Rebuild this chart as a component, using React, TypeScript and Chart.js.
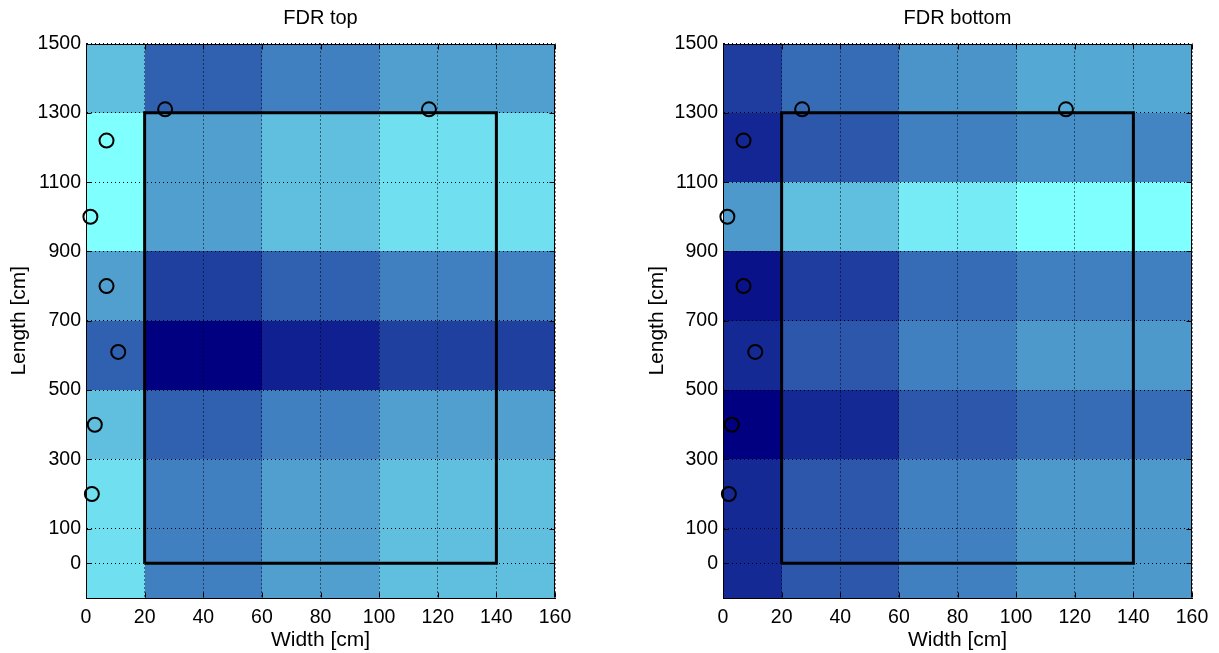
import React, { useEffect, useRef } from 'react';
import { Chart, registerables } from 'chart.js';

Chart.register(...registerables);

// Cell edges (cm)
const xEdges = [0, 20, 60, 100, 140, 160];
const yEdges = [-100, 300, 500, 700, 900, 1100, 1300, 1500];

// Tick labels
const xTicks = [0, 20, 40, 60, 80, 100, 120, 140, 160];
const yTicks = [0, 100, 300, 500, 700, 900, 1100, 1300, 1500];

// Normalized FDR per cell; rows from bottom (y = -100) to top, columns left to right
const fdrTop = [
  [0.875, 0.5, 0.625, 0.75, 0.75],
  [0.75, 0.375, 0.5, 0.625, 0.625],
  [0.375, 0.0, 0.125, 0.25, 0.25],
  [0.625, 0.25, 0.375, 0.5, 0.5],
  [1.0, 0.625, 0.75, 0.875, 0.875],
  [1.0, 0.625, 0.75, 0.875, 0.875],
  [0.75, 0.375, 0.5, 0.625, 0.625],
];

const fdrBottom = [
  [0.16, 0.34, 0.5, 0.6, 0.6],
  [0.0, 0.16, 0.34, 0.42, 0.42],
  [0.16, 0.34, 0.5, 0.6, 0.6],
  [0.07, 0.24, 0.42, 0.5, 0.5],
  [0.6, 0.75, 0.92, 1.0, 1.0],
  [0.15, 0.34, 0.5, 0.56, 0.52],
  [0.24, 0.42, 0.58, 0.66, 0.66],
];

// Sensor positions (cm)
const sensorX = [27, 117, 7, 1.5, 7, 11, 3, 2];
const sensorY = [1310, 1310, 1220, 1000, 800, 610, 400, 200];

// Frame outline (cm)
const frameX = [20, 140, 140, 20, 20];
const frameY = [0, 0, 1300, 1300, 0];

const FONT = 'Liberation Sans, Arial, Helvetica, sans-serif';
const cmapLow = [0, 0, 128];
const cmapHigh = [128, 255, 255];

function colorFor(t: number): string {
  const c = cmapLow.map((lo, i) => Math.round(lo + (cmapHigh[i] - lo) * t));
  return `rgb(${c[0]},${c[1]},${c[2]})`;
}

function makePlugin(values: number[][]) {
  return {
    id: 'heatmap',
    beforeDraw(chart: any) {
      const { ctx } = chart;
      const xs = chart.scales.x;
      const ys = chart.scales.y;
      ctx.save();
      for (let r = 0; r < values.length; r++) {
        for (let c = 0; c < values[r].length; c++) {
          const x0 = Math.round(xs.getPixelForValue(xEdges[c]));
          const x1 = Math.round(xs.getPixelForValue(xEdges[c + 1]));
          const y0 = Math.round(ys.getPixelForValue(yEdges[r + 1]));
          const y1 = Math.round(ys.getPixelForValue(yEdges[r]));
          ctx.fillStyle = colorFor(values[r][c]);
          ctx.fillRect(x0, y0, x1 - x0, y1 - y0);
        }
      }
      ctx.restore();
    },
    afterDraw(chart: any) {
      const { ctx, chartArea: a } = chart;
      const xs = chart.scales.x;
      const ys = chart.scales.y;
      ctx.save();
      ctx.strokeStyle = '#000';
      ctx.lineWidth = 1;
      ctx.beginPath();
      const L = Math.round(a.left) + 0.5;
      const R = Math.round(a.right) - 0.5;
      const T = Math.round(a.top) + 0.5;
      const B = Math.round(a.bottom) - 0.5;
      ctx.moveTo(L, T);
      ctx.lineTo(R, T);
      ctx.lineTo(R, B);
      ctx.stroke();
      // inward tick marks
      ctx.beginPath();
      xTicks.forEach((v) => {
        const px = Math.round(xs.getPixelForValue(v)) + 0.5;
        ctx.moveTo(px, B);
        ctx.lineTo(px, B - 5);
        ctx.moveTo(px, T);
        ctx.lineTo(px, T + 5);
      });
      yTicks.forEach((v) => {
        const py = Math.round(ys.getPixelForValue(v)) + 0.5;
        ctx.moveTo(L, py);
        ctx.lineTo(L + 5, py);
        ctx.moveTo(R, py);
        ctx.lineTo(R - 5, py);
      });
      ctx.stroke();
      ctx.restore();
    },
  };
}

function makeConfig(title: string, values: number[][], yAxisWidth: number, padRight: number, yTitlePad: number): any {
  return {
    type: 'scatter',
    data: {
      datasets: [
        {
          type: 'scatter',
          label: 'Sensors',
          data: sensorX.map((x, i) => ({ x, y: sensorY[i] })),
          pointRadius: 7,
          pointBorderWidth: 2,
          borderColor: '#000',
          backgroundColor: 'rgba(0,0,0,0)',
          pointHoverRadius: 7,
          clip: false,
        },
        {
          type: 'line',
          label: 'Frame',
          data: frameX.map((x, i) => ({ x, y: frameY[i] })),
          borderColor: '#000',
          borderWidth: 3,
          pointRadius: 0,
          fill: false,
          tension: 0,
          showLine: true,
          clip: false,
        },
      ],
    },
    options: {
      animation: false,
      responsive: false,
      devicePixelRatio: 1,
      events: [],
      layout: { padding: { left: 0, right: padRight, top: 0, bottom: 0 } },
      plugins: {
        legend: { display: false },
        tooltip: { enabled: false },
        title: {
          display: true,
          text: title,
          fullSize: false,
          color: '#000',
          font: { family: FONT, size: 20, weight: 'normal', lineHeight: 1.2 },
          padding: { top: 6, bottom: 13.5 },
        },
      },
      scales: {
        x: {
          type: 'linear',
          min: 0,
          max: 160,
          afterBuildTicks: (s: any) => {
            s.ticks = xTicks.map((v) => ({ value: v }));
          },
          afterFit: (s: any) => {
            s.height = 55;
          },
          ticks: {
            color: '#000',
            font: { family: FONT, size: 19.5, lineHeight: 1.2 },
            padding: 8,
            maxRotation: 0,
            autoSkip: false,
            callback: (v: any) => String(v),
          },
          grid: { color: '#000', lineWidth: 1, drawTicks: false },
          border: { display: true, color: '#000', width: 1, dash: [1, 3] },
          title: {
            display: true,
            text: 'Width [cm]',
            color: '#000',
            font: { family: FONT, size: 21, lineHeight: 1.2 },
            padding: { top: 0, bottom: 0.5 },
          },
        },
        y: {
          type: 'linear',
          min: -100,
          max: 1500,
          afterBuildTicks: (s: any) => {
            s.ticks = yTicks.map((v) => ({ value: v }));
          },
          afterFit: (s: any) => {
            s.width = yAxisWidth;
          },
          ticks: {
            color: '#000',
            font: { family: FONT, size: 19.5, lineHeight: 1.2 },
            padding: 5,
            autoSkip: false,
            callback: (v: any) => String(v),
          },
          grid: { color: '#000', lineWidth: 1, drawTicks: false },
          border: { display: true, color: '#000', width: 1, dash: [1, 3] },
          title: {
            display: true,
            text: 'Length [cm]',
            color: '#000',
            font: { family: FONT, size: 21, lineHeight: 1.2 },
            padding: { top: yTitlePad, bottom: 0 },
          },
        },
      },
    },
    plugins: [makePlugin(values)],
  };
}

function Panel(props: { title: string; values: number[][]; width: number; left: number; yAxisWidth: number; padRight: number; yTitlePad: number }) {
  const ref = useRef<HTMLCanvasElement | null>(null);
  useEffect(() => {
    if (!ref.current) return;
    const chart = new Chart(ref.current, makeConfig(props.title, props.values, props.yAxisWidth, props.padRight, props.yTitlePad));
    return () => chart.destroy();
  }, []);
  return (
    <div style={{ position: 'absolute', left: props.left, top: 0, width: props.width, height: 653 }}>
      <canvas ref={ref} width={props.width} height={653} style={{ display: 'block', width: props.width, height: 653 }} />
    </div>
  );
}

export default function App() {
  return (
    <div style={{ position: 'fixed', left: 0, top: 0, width: 1219, height: 653, background: '#fff', overflow: 'hidden' }}>
      <Panel title="FDR top" values={fdrTop} width={610} left={0} yAxisWidth={86} padRight={55} yTitlePad={6.6} />
      <Panel title="FDR bottom" values={fdrBottom} width={609} left={610} yAxisWidth={113} padRight={27} yTitlePad={34.9} />
    </div>
  );
}
